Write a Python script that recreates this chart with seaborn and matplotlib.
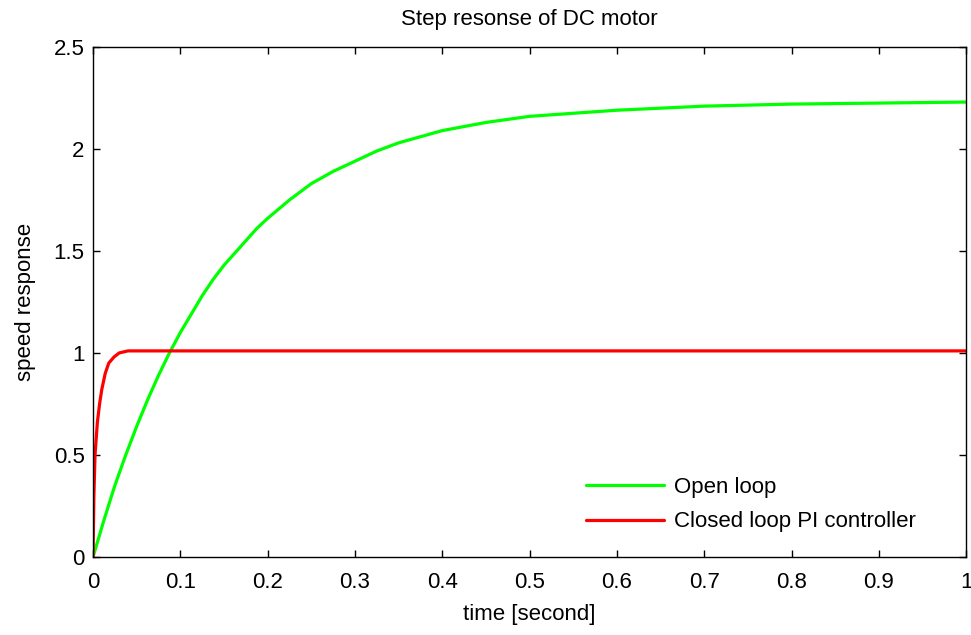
import matplotlib
matplotlib.use("Agg")
import matplotlib.pyplot as plt
import seaborn as sns
import numpy as np

# Data
t_open = [0, 0.0125, 0.025, 0.0375, 0.05, 0.0625, 0.075, 0.0875, 0.1, 0.1125, 0.125,
          0.1375, 0.15, 0.1625, 0.175, 0.1875, 0.2, 0.225, 0.25, 0.275, 0.3, 0.325,
          0.35, 0.375, 0.4, 0.45, 0.5, 0.55, 0.6, 0.7, 0.8, 0.9, 1.0]
y_open = [0, 0.18, 0.35, 0.50, 0.64, 0.77, 0.89, 1.00, 1.10, 1.19, 1.28,
          1.36, 1.43, 1.49, 1.55, 1.61, 1.66, 1.75, 1.83, 1.89, 1.94, 1.99,
          2.03, 2.06, 2.09, 2.13, 2.16, 2.175, 2.19, 2.21, 2.22, 2.225, 2.23]

t_closed = [0, 0.001, 0.0023, 0.005, 0.0075, 0.01, 0.014, 0.018, 0.024, 0.03, 0.04, 1.0]
y_closed = [0, 0.30, 0.50, 0.66, 0.75, 0.82, 0.90, 0.95, 0.98, 1.0, 1.01, 1.01]

labels = ["Open loop", "Closed loop PI controller"]
colors = ["#00ff00", "#ff0000"]

xticks = [0, 0.1, 0.2, 0.3, 0.4, 0.5, 0.6, 0.7, 0.8, 0.9, 1]
xticklabels = ["0", "0.1", "0.2", "0.3", "0.4", "0.5", "0.6", "0.7", "0.8", "0.9", "1"]
yticks = [0, 0.5, 1, 1.5, 2, 2.5]
yticklabels = ["0", "0.5", "1", "1.5", "2", "2.5"]

sns.set_style("ticks")
plt.rcParams['font.family'] = ['Liberation Sans', 'DejaVu Sans']
plt.rcParams['text.color'] = 'black'
plt.rcParams['axes.labelcolor'] = 'black'

FS = 16

fig = plt.figure(figsize=(9.71, 6.35), dpi=100)
ax = fig.add_axes([0.0958, 0.123, 0.8992, 0.803])

sns.lineplot(x=t_open, y=y_open, ax=ax, color=colors[0], linewidth=2.3, label=labels[0])
sns.lineplot(x=t_closed, y=y_closed, ax=ax, color=colors[1], linewidth=2.3, label=labels[1])

ax.set_xlim(0, 1)
ax.set_ylim(0, 2.5)
ax.set_xticks(xticks)
ax.set_xticklabels(xticklabels)
ax.set_yticks(yticks)
ax.set_yticklabels(yticklabels)
ax.tick_params(direction='in', length=5, width=1, top=True, right=True,
               labelsize=FS, colors='black')
ax.tick_params(axis='x', pad=11)
ax.tick_params(axis='y', pad=6)
for s in ax.spines.values():
    s.set_visible(True)
    s.set_color('black')
    s.set_linewidth(1)

ax.set_title("Step resonse of DC motor", fontsize=FS, pad=16, color='black')
ax.set_xlabel("time [second]", fontsize=FS, labelpad=8)
ax.set_ylabel("speed response", fontsize=FS, labelpad=13)

leg = ax.legend(loc='lower left', frameon=False, fontsize=FS, handlelength=3.5,
                handletextpad=0.45, labelspacing=0.6, borderpad=0, borderaxespad=0,
                bbox_to_anchor=(0.565, 0.048))
for txt in leg.get_texts():
    txt.set_color('black')

fig.savefig("out.png", dpi=100, facecolor='white')
